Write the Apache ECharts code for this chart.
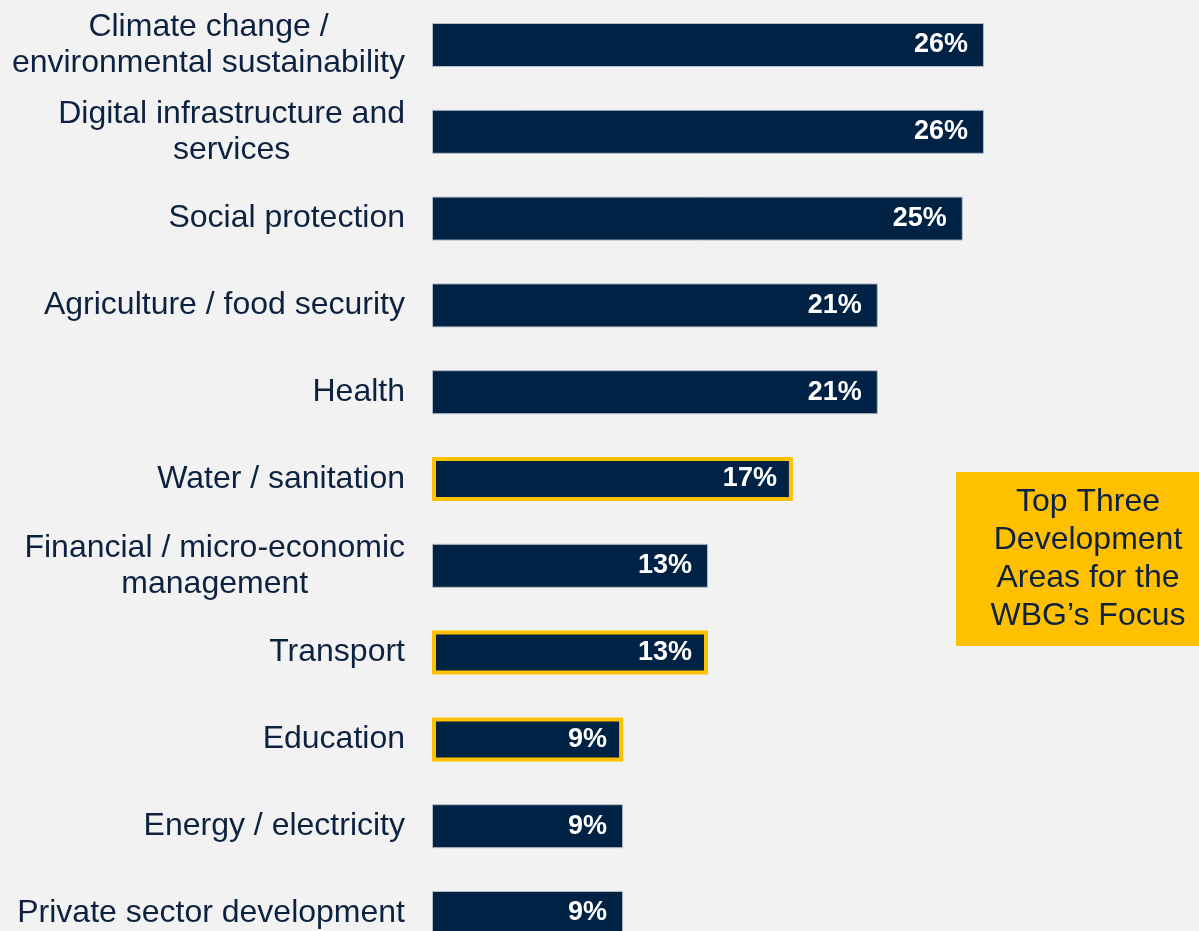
<!DOCTYPE html>
<html>
<head>
<meta charset="utf-8">
<style>
  html, body { margin: 0; padding: 0; background: #f2f2f2; }
  #chart { width: 1199px; height: 931px; }
</style>
<script src="https://cdn.jsdelivr.net/npm/echarts@6/dist/echarts.min.js"></script>
</head>
<body>
<div id="chart"></div>
<script>
// Development areas, top to bottom
const categories = [
  'Climate change /\nenvironmental sustainability',
  'Digital infrastructure and\nservices',
  'Social protection',
  'Agriculture / food security',
  'Health',
  'Water / sanitation',
  'Financial / micro-economic\nmanagement',
  'Transport',
  'Education',
  'Energy / electricity',
  'Private sector development'
];
// Share of respondents (%)
const shares = [26, 26, 25, 21, 21, 17, 13, 13, 9, 9, 9];
// Areas outlined as the top three for the WBG's focus
const topThree = ['Water / sanitation', 'Transport', 'Education'];
const calloutLines = ['Top Three', 'Development', 'Areas for the', 'WBG\u2019s Focus'];

const NAVY = '#002245';
const GOLD = '#FFC000';
const TEXT = '#0d2240';
const FONT = '"Liberation Sans", Arial, sans-serif';
const LABEL_SIZE = 32;

const chart = echarts.init(document.getElementById('chart'), null, { renderer: 'canvas' });

const barData = shares.map((v, i) => {
  const item = { value: v };
  if (topThree.includes(categories[i])) {
    item.itemStyle = { borderColor: GOLD, borderWidth: 4 };
  }
  return item;
});

// Multi-line labels: the block is right-aligned to the axis, each line centred inside it
const labelStyle = { color: TEXT, fontFamily: FONT, fontSize: LABEL_SIZE, lineHeight: 36 };
const rich = { c: Object.assign({ align: 'center' }, labelStyle) };
function formatLabel(value) {
  if (value.indexOf('\n') < 0) return value;
  return value.split('\n').map(line => '{c|' + line + '}').join('\n');
}

chart.setOption({
  backgroundColor: '#f2f2f2',
  animation: false,
  // categories sit on ticks; the last bar runs off the bottom edge
  grid: { left: 432, top: 45, width: 636.9, height: 869, containLabel: false },
  xAxis: {
    type: 'value', min: 0, max: 30, show: false,
    splitLine: { show: false }
  },
  yAxis: {
    type: 'category',
    data: categories,
    inverse: true,
    boundaryGap: false,
    axisLine: { show: false },
    axisTick: { show: false },
    splitLine: { show: false },
    axisLabel: Object.assign({
      margin: 27,
      align: 'right',
      formatter: formatLabel,
      rich: rich
    }, labelStyle)
  },
  series: [{
    type: 'bar',
    data: barData,
    barWidth: 44,
    itemStyle: { color: NAVY, borderColor: '#b4bcc8', borderWidth: 1 },
    label: {
      show: true,
      position: 'insideRight',
      distance: 16,
      formatter: '{c}%',
      color: '#ffffff',
      fontFamily: FONT,
      fontWeight: 'bold',
      fontSize: 27
    }
  }],
  graphic: [{
    type: 'group',
    left: 956,
    top: 472,
    children: [
      { type: 'rect', shape: { x: 0, y: 0, width: 264, height: 174 }, style: { fill: GOLD } },
      {
        type: 'text',
        x: 132, y: 87,
        style: {
          text: calloutLines.join('\n'),
          fill: TEXT,
          font: '32px ' + FONT,
          lineHeight: 38,
          align: 'center',
          verticalAlign: 'middle'
        }
      }
    ]
  }]
});
</script>
</body>
</html>
